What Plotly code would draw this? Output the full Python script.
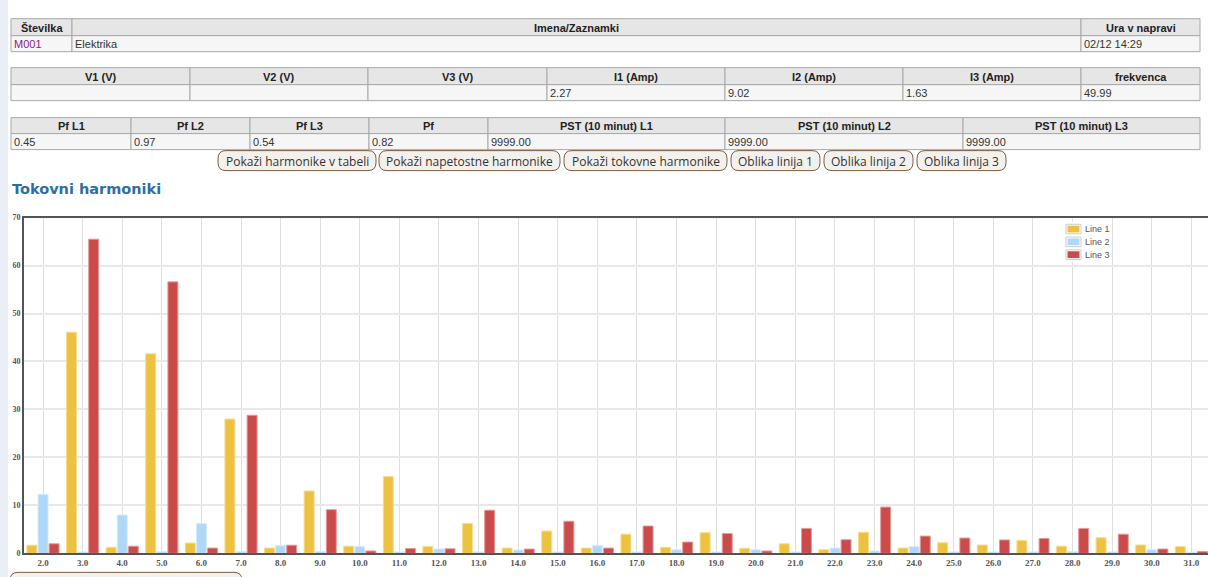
import plotly.graph_objects as go

W, H = 1208, 577

# ---- data -------------------------------------------------------------
harmonics = [2.0, 3.0, 4.0, 5.0, 6.0, 7.0, 8.0, 9.0, 10.0, 11.0,
             12.0, 13.0, 14.0, 15.0, 16.0, 17.0, 18.0, 19.0, 20.0, 21.0,
             22.0, 23.0, 24.0, 25.0, 26.0, 27.0, 28.0, 29.0, 30.0, 31.0]
harmonic_labels = ["2.0", "3.0", "4.0", "5.0", "6.0", "7.0", "8.0", "9.0", "10.0", "11.0",
                   "12.0", "13.0", "14.0", "15.0", "16.0", "17.0", "18.0", "19.0", "20.0", "21.0",
                   "22.0", "23.0", "24.0", "25.0", "26.0", "27.0", "28.0", "29.0", "30.0", "31.0"]
line1 = [1.7, 46.1, 1.25, 41.6, 2.15, 28.0, 1.1, 13.0, 1.5, 16.0,
         1.45, 6.25, 1.1, 4.65, 1.1, 4.0, 1.25, 4.3, 1.05, 2.0,
         0.75, 4.4, 1.1, 2.2, 1.75, 2.7, 1.5, 3.25, 1.75, 1.4]
line2 = [12.3, 0.3, 8.0, 0.35, 6.2, 0.4, 1.6, 0.4, 1.45, 0.3,
         0.9, 0.3, 0.7, 0.3, 1.6, 0.3, 0.75, 0.3, 0.75, 0.3,
         1.1, 0.5, 1.4, 0.3, 0.3, 0.3, 0.35, 0.3, 0.75, 0.2]
line3 = [2.0, 65.5, 1.5, 56.6, 1.1, 28.8, 1.7, 9.1, 0.5, 1.0,
         0.95, 9.0, 0.9, 6.7, 1.1, 5.7, 2.35, 4.15, 0.5, 5.2,
         2.85, 9.65, 3.6, 3.2, 2.8, 3.1, 5.2, 4.0, 0.9, 0.4]
series_names = ["Line 1", "Line 2", "Line 3"]
y_ticks = [0, 10, 20, 30, 40, 50, 60, 70]

info_headers = ["Številka", "Imena/Zaznamki", "Ura v napravi"]
info_values = ["M001", "Elektrika", "02/12 14:29"]
meas_headers = ["V1 (V)", "V2 (V)", "V3 (V)", "I1 (Amp)", "I2 (Amp)", "I3 (Amp)", "frekvenca"]
meas_values = ["", "", "", "2.27", "9.02", "1.63", "49.99"]
pf_headers = ["Pf L1", "Pf L2", "Pf L3", "Pf", "PST (10 minut) L1", "PST (10 minut) L2", "PST (10 minut) L3"]
pf_values = ["0.45", "0.97", "0.54", "0.82", "9999.00", "9999.00", "9999.00"]
buttons = ["Pokaži harmonike v tabeli", "Pokaži napetostne harmonike", "Pokaži tokovne harmonike",
           "Oblika linija 1", "Oblika linija 2", "Oblika linija 3"]
heading = "Tokovni harmoniki"

# ---- helpers (page pixel -> paper) -------------------------------------
Y_OFF, Y_SCALE = 3.3, 0.985


def X(px):
    return px / W


def Y(py):
    return 1 - ((py - Y_OFF) / Y_SCALE) / H


shapes = []
annotations = []

TABLE_FONT = "Liberation Sans Narrow, Arial Narrow, Liberation Sans, Arial"


def rect(x0, y0, x1, y1, fill, line="#a8a8a8", width=1, layer="below"):
    shapes.append(dict(type="rect", xref="paper", yref="paper",
                       x0=X(x0), x1=X(x1), y0=Y(y1), y1=Y(y0),
                       fillcolor=fill, line=dict(color=line, width=width), layer=layer))


def text(x, y, s, size=11, color="#333333", anchor="center", bold=False, family=TABLE_FONT):
    annotations.append(dict(xref="paper", yref="paper", x=X(x), y=Y(y), text=s,
                            showarrow=False, xanchor=anchor, yanchor="middle",
                            font=dict(family=family, size=size, color=color,
                                      weight="bold" if bold else "normal")))


def table(cols, top, mid, bottom, headers, values, value_colors=None):
    for i, (h, v) in enumerate(zip(headers, values)):
        x0, x1 = cols[i], cols[i + 1]
        rect(x0, top, x1, mid, "#e6e6e6")
        rect(x0, mid, x1, bottom, "#f6f6f6")
        text((x0 + x1) / 2, (top + mid) / 2 + 0.5, h, bold=True, color="#222222")
        if v:
            c = value_colors[i] if value_colors else "#333333"
            text(x0 + 1, (mid + bottom) / 2 + 0.5, v, color=c, anchor="left")


def rounded(x0, y0, x1, y1, r, fill, line):
    path = (f"M {X(x0 + r)},{Y(y0)} L {X(x1 - r)},{Y(y0)} Q {X(x1)},{Y(y0)} {X(x1)},{Y(y0 + r)} "
            f"L {X(x1)},{Y(y1 - r)} Q {X(x1)},{Y(y1)} {X(x1 - r)},{Y(y1)} "
            f"L {X(x0 + r)},{Y(y1)} Q {X(x0)},{Y(y1)} {X(x0)},{Y(y1 - r)} "
            f"L {X(x0)},{Y(y0 + r)} Q {X(x0)},{Y(y0)} {X(x0 + r)},{Y(y0)} Z")
    shapes.append(dict(type="path", xref="paper", yref="paper", path=path,
                       fillcolor=fill, line=dict(color=line, width=1), layer="below"))


# left page strip
rect(0, -10, 8, 600, "#e9eef7", line="#e9eef7", width=0)

# info tables
table([11, 72, 1081, 1200], 18, 35, 51, info_headers, info_values,
      value_colors=["#8b1a8b", "#333333", "#333333"])
table([11, 190, 368, 547, 725, 903, 1081, 1200], 67, 84, 100, meas_headers, meas_values)
table([11, 131, 250, 369, 488, 725, 963, 1200], 117, 133, 149, pf_headers, pf_values)

# buttons
button_edges = [(218, 376), (379, 560), (564, 727), (731, 820), (824, 913), (917, 1006)]
for (bx0, bx1), label in zip(button_edges, buttons):
    rounded(bx0, 150, bx1, 170, 8, "#f3f1ee", "#7b5a3c")
    text((bx0 + bx1) / 2, 160.5, label, size=12, color="#333333", family="Open Sans, DejaVu Sans")
rounded(10, 572, 242, 600, 8, "#f3f1ee", "#7b5a3c")

# section heading
text(10, 188, heading, size=14.5, color="#2e6ea6", anchor="left", bold=True,
     family="DejaVu Sans, Verdana")

# ---- chart ------------------------------------------------------------
fills = ["#edc240", "#afd8f8", "#cb4b4b"]
edges = ["#f6dc8e", "#d5ebfb", "#e39a9a"]

fig = go.Figure()
for name, vals, fc, ec in zip(series_names, [line1, line2, line3], fills, edges):
    fig.add_trace(go.Bar(x=harmonics, y=vals, name=name, showlegend=False,
                         marker=dict(color=fc, line=dict(color=ec, width=1))))

# legend box in the top-right corner of the plot
rect(1063, 221, 1108, 262, "rgba(255,255,255,0.92)", line="rgba(255,255,255,0)", width=0, layer="above")
for i, (name, fc) in enumerate(zip(series_names, fills)):
    cy = 228.5 + 12.8 * i
    rect(1066, cy - 4.8, 1081, cy + 4.8, "#ffffff", line="#cccccc", width=1, layer="above")
    rect(1067.5, cy - 3.4, 1079.5, cy + 3.4, fc, line=fc, width=0, layer="above")
    text(1083, cy + 0.3, name, size=9, color="#545454", anchor="left",
         family="Liberation Sans, Arial")

fig.update_layout(
    width=W, height=H,
    margin=dict(l=0, r=0, t=0, b=0),
    paper_bgcolor="white", plot_bgcolor="white",
    barmode="group", bargap=0.16, bargroupgap=0.1,
    shapes=shapes, annotations=annotations,
    showlegend=False,
    xaxis=dict(domain=[X(24), 1], range=[1.52, 31.42],
               tickvals=harmonics, ticktext=harmonic_labels,
               showgrid=True, gridcolor="#dedede", gridwidth=1,
               showline=True, linecolor="#545454", linewidth=2, mirror=True,
               ticks="", zeroline=False,
               tickfont=dict(family="Liberation Serif, Times New Roman", size=9,
                             color="#545454", weight="bold")),
    yaxis=dict(domain=[Y(553), Y(217)], range=[0, 70],
               tickvals=y_ticks,
               showgrid=True, gridcolor="#e8e8e8", gridwidth=2,
               showline=True, linecolor="#545454", linewidth=2,
               ticks="", zeroline=False,
               tickfont=dict(family="Liberation Serif, Times New Roman", size=8,
                             color="#545454", weight="bold")),
)

fig.write_html("out.html")
